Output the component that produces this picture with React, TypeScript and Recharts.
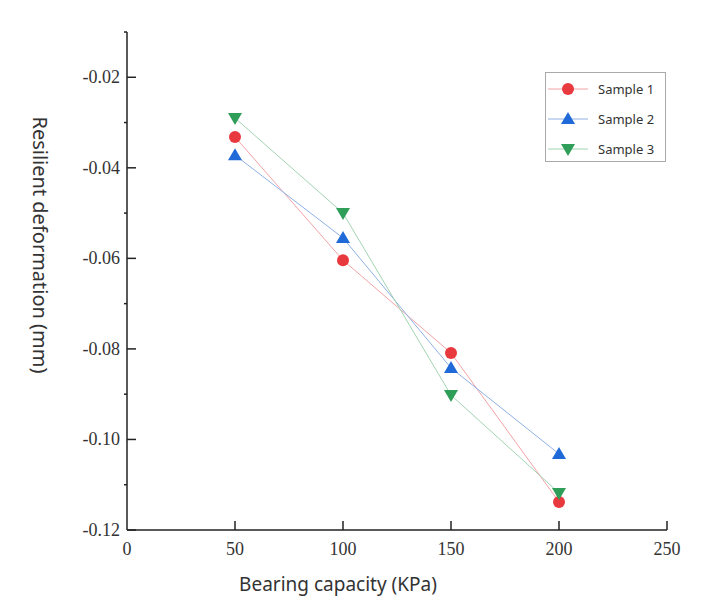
import { LineChart, Line, XAxis, YAxis, Legend } from 'recharts';

const pressures = [50, 100, 150, 200];
const sample1 = [-0.0332, -0.0604, -0.0809, -0.1138];
const sample2 = [-0.0372, -0.0555, -0.0842, -0.1032];
const sample3 = [-0.029, -0.05, -0.0902, -0.1118];

const xTicks = [0, 50, 100, 150, 200, 250];
const yTicks = [-0.12, -0.11, -0.1, -0.09, -0.08, -0.07, -0.06, -0.05, -0.04, -0.03, -0.02, -0.01];
const yMajor = ['-0.12', '-0.10', '-0.08', '-0.06', '-0.04', '-0.02'];

const series = [
  { key: 's1', name: 'Sample 1', color: '#e8393f', line: '#f3a3a6', shape: 'circle' },
  { key: 's2', name: 'Sample 2', color: '#1f6ad8', line: '#8fb0e6', shape: 'up' },
  { key: 's3', name: 'Sample 3', color: '#2f9e58', line: '#a3d3b3', shape: 'down' },
];

const data = pressures.map((p, i) => ({ p, s1: sample1[i], s2: sample2[i], s3: sample3[i] }));

const serif = '"Liberation Serif", "DejaVu Serif", serif';
const sans = '"Noto Sans", "DejaVu Sans", sans-serif';

function Marker({ shape, color, cx, cy }: { shape: string; color: string; cx: number; cy: number }) {
  if (shape === 'circle') return <circle cx={cx} cy={cy} r={6} fill={color} />;
  if (shape === 'up')
    return <polygon points={`${cx},${cy - 7} ${cx - 7},${cy + 5} ${cx + 7},${cy + 5}`} fill={color} />;
  return <polygon points={`${cx},${cy + 7} ${cx - 7},${cy - 5} ${cx + 7},${cy - 5}`} fill={color} />;
}

const YTick = (props: any) => {
  const { x, y, payload } = props;
  const label = payload.value.toFixed(2);
  const major = yMajor.includes(label);
  return (
    <g>
      {major ? (
        <>
          <line x1={x} x2={x + 9} y1={y} y2={y} stroke="#222" strokeWidth={1.5} />
          <text x={x - 7} y={y + 6} textAnchor="end" fontFamily={serif} fontSize={18} fill="#333">
            {label}
          </text>
        </>
      ) : (
        <line x1={x - 3} x2={x} y1={y} y2={y} stroke="#222" strokeWidth={1.5} />
      )}
    </g>
  );
};

const XTick = (props: any) => {
  const { x, y, payload } = props;
  return (
    <g>
      {payload.value !== 0 && <line x1={x} x2={x} y1={y} y2={y - 9} stroke="#222" strokeWidth={1.5} />}
      <text x={x} y={y + 25} textAnchor="middle" fontFamily={serif} fontSize={18} fill="#333">
        {payload.value}
      </text>
    </g>
  );
};

const LegendBox = () => (
  <div
    style={{
      width: 121,
      height: 90,
      border: '1px solid #aaa',
      background: '#fff',
      boxSizing: 'border-box',
      paddingTop: 1,
    }}
  >
    {series.map((s) => (
      <div key={s.key} style={{ display: 'flex', alignItems: 'center', height: 30 }}>
        <svg width={46} height={20} style={{ marginLeft: 2 }}>
          <line x1={0} x2={40} y1={10} y2={10} stroke={s.line} strokeWidth={1} />
          <Marker shape={s.shape} color={s.color} cx={20} cy={10} />
        </svg>
        <span style={{ fontFamily: sans, fontSize: 13, color: '#333', marginLeft: 4 }}>{s.name}</span>
      </div>
    ))}
  </div>
);

export default function App() {
  return (
    <div style={{ position: 'absolute', left: 0, top: 0, background: '#fff' }}>
      <LineChart width={712} height={598} data={data} margin={{ top: 32, right: 45, bottom: 0, left: 0 }}>
        <XAxis
          dataKey="p"
          type="number"
          domain={[0, 250]}
          ticks={xTicks}
          tick={XTick}
          tickLine={false}
          tickSize={0}
          tickMargin={0}
          stroke="#222"
          strokeWidth={1.5}
          height={68}
          label={{
            content: () => (
              <text x={338} y={591} textAnchor="middle" fontFamily={sans} fontSize={19} fill="#333">
                Bearing capacity (KPa)
              </text>
            ),
          }}
        />
        <YAxis
          type="number"
          domain={[-0.12, -0.01]}
          ticks={yTicks}
          interval={0}
          tick={YTick}
          tickLine={false}
          tickSize={0}
          tickMargin={0}
          stroke="#222"
          strokeWidth={1.5}
          width={127}
          label={{
            content: () => (
              <text
                x={40}
                y={245}
                transform="rotate(90 40 245)"
                textAnchor="middle"
                dominantBaseline="central"
                fontFamily={sans}
                fontSize={20}
                fill="#333"
              >
                Resilient deformation (mm)
              </text>
            ),
          }}
        />
        <Legend
          layout="vertical"
          verticalAlign="middle"
          align="center"
          content={LegendBox}
          wrapperStyle={{ position: 'absolute', left: 545, top: 72, width: 121 }}
        />
        {series.map((s) => (
          <Line
            key={s.key}
            dataKey={s.key}
            name={s.name}
            stroke={s.line}
            strokeWidth={1}
            isAnimationActive={false}
            dot={(p: any) => <Marker key={`${s.key}-${p.index}`} shape={s.shape} color={s.color} cx={p.cx} cy={p.cy} />}
            activeDot={false}
          />
        ))}
      </LineChart>
    </div>
  );
}
